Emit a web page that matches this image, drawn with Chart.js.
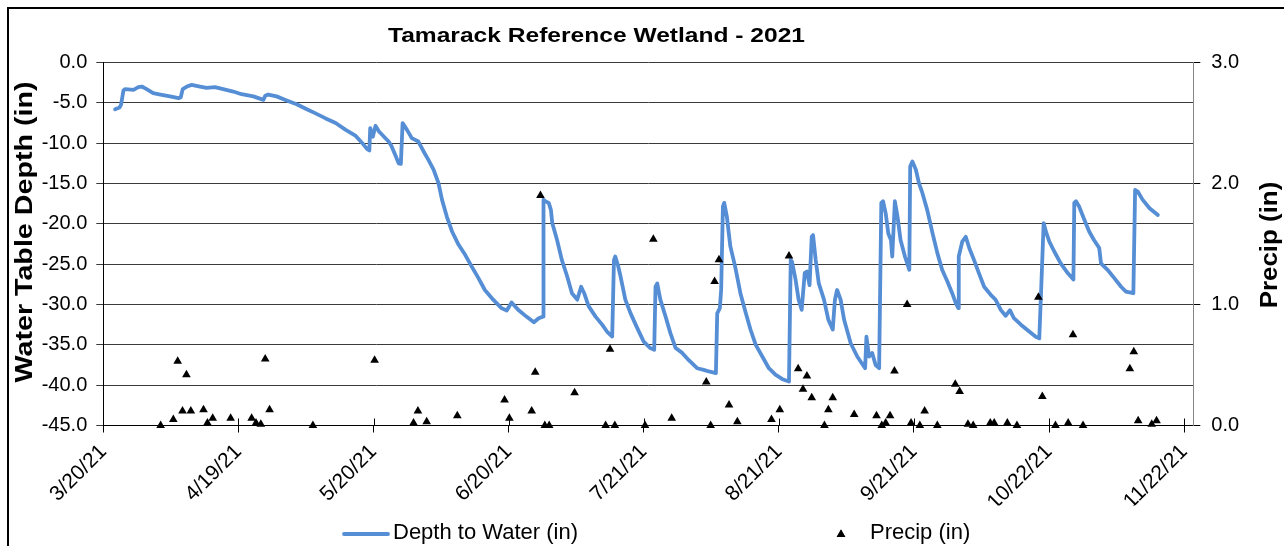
<!DOCTYPE html>
<html>
<head>
<meta charset="utf-8">
<script src="https://cdn.jsdelivr.net/npm/chart.js@4.4.1/dist/chart.umd.min.js"></script>
<style>
html, body { margin: 0; padding: 0; background: #ffffff; }
#wrap { position: relative; width: 1284px; height: 546px; }
</style>
</head>
<body>
<div id="wrap"><canvas id="chart"></canvas></div>
<script>
// ---------------- data ----------------
const chartTitle = 'Tamarack Reference Wetland - 2021';
const depthLabel = 'Depth to Water (in)';
const precipLabel = 'Precip (in)';
const leftAxisTitle = 'Water Table Depth (in)';
const rightAxisTitle = 'Precip (in)';

// x axis: days since 3/20/21
const xTickLabels = ['3/20/21', '4/19/21', '5/20/21', '6/20/21', '7/21/21', '8/21/21', '9/21/21', '10/22/21', '11/22/21'];
const xTickDays = [0, 30.875, 61.75, 92.625, 123.5, 154.375, 185.25, 216.125, 247];

const depthDays = [
  2.7, 3.7, 4.05, 4.6, 5.0, 6.9, 8.0, 8.8, 9.9, 11.4, 13.35, 15.25, 17.2, 17.7, 18.15, 19.1, 20.2, 22.1, 23.6, 25.5,
  27.4, 29.7, 31.6, 34.3, 36.6, 37.0, 37.7, 39.6, 41.9, 44.2, 46.5, 48.4, 50.7, 53.1, 55.4, 57.7, 59.2, 60.3, 60.8, 61.0,
  61.6, 62.2, 63.0, 64.1, 65.2, 65.8, 66.7, 67.5, 68.0, 68.4, 69.4, 70.5, 72.0, 73.2, 74.3, 75.5, 76.6, 77.4, 78.5, 79.7,
  81.2, 82.7, 84.2, 85.7, 87.2, 89.1, 91.0, 92.2, 93.3, 94.8, 96.7, 98.4, 99.5, 100.5, 100.6, 101.0, 101.8, 102.3, 102.6, 103.7,
  104.8, 106.0, 107.1, 108.3, 109.2, 109.9, 110.9, 112.5, 114.0, 115.1, 116.3, 116.7, 117.0, 117.6, 118.2, 119.3, 120.5, 122.0, 123.5, 125.0,
  125.9, 126.2, 126.6, 127.3, 128.5, 129.6, 130.8, 132.3, 133.8, 135.7, 137.2, 138.4, 140.0, 140.3, 140.9, 141.2, 141.6, 141.9, 142.5, 143.3,
  144.4, 145.6, 146.7, 147.9, 149.1, 150.6, 152.1, 153.6, 155.2, 156.7, 157.1, 157.4, 158.2, 158.9, 159.6, 160.3, 160.8, 161.4, 161.9, 162.2,
  162.8, 163.5, 164.7, 165.7, 166.7, 167.2, 167.7, 168.5, 169.3, 170.8, 172.3, 174.1, 174.4, 175.0, 175.7, 176.5, 177.3, 177.8, 178.2, 178.8,
  179.4, 180.0, 180.3, 180.9, 181.5, 182.2, 183.2, 184.2, 184.4, 184.9, 185.7, 186.4, 187.2, 188.3, 189.5, 190.6, 191.7, 192.9, 194.0, 194.8,
  195.4, 195.5, 196.3, 197.1, 197.9, 199.0, 200.1, 201.3, 202.8, 203.9, 205.1, 206.2, 207.2, 208.1, 209.7, 211.6, 213.1, 213.9, 214.3, 214.9,
  215.4, 216.2, 217.3, 218.8, 220.4, 221.7, 221.9, 222.3, 223.0, 224.2, 225.3, 226.4, 227.6, 228.0, 229.5, 231.0, 232.6, 233.7, 235.4, 235.8,
  236.4, 237.5, 239.1, 241.0
];
const depthValues = [
  -5.79, -5.58, -5.25, -3.47, -3.3, -3.39, -3.06, -2.98, -3.3, -3.8, -4.0, -4.2, -4.42, -4.3, -3.3, -2.98, -2.77, -2.98, -3.14, -3.06,
  -3.3, -3.6, -3.93, -4.2, -4.63, -4.13, -3.97, -4.2, -4.7, -5.17, -5.79, -6.28, -6.9, -7.5, -8.35, -9.1, -10.0, -10.74, -10.9, -8.14,
  -9.2, -7.85, -8.55, -9.17, -9.8, -10.3, -11.45, -12.5, -12.56, -7.52, -8.35, -9.38, -9.8, -11.03, -12.07, -13.3, -14.96, -17.0, -19.1, -20.95,
  -22.6, -23.84, -25.3, -26.7, -28.2, -29.4, -30.45, -30.74, -29.75, -30.66, -31.5, -32.2, -31.7, -31.5, -17.0, -17.2, -17.4, -18.3, -19.9, -22.0,
  -24.5, -26.5, -28.6, -29.4, -27.8, -28.6, -30.2, -31.5, -32.5, -33.35, -33.97, -24.5, -24.05, -25.1, -26.5, -29.4, -31.1, -32.9, -34.6, -35.4,
  -35.6, -27.8, -27.4, -29.4, -31.5, -33.55, -35.4, -36.0, -36.9, -37.9, -38.1, -38.3, -38.5, -31.1, -30.45, -28.2, -17.85, -17.4, -19.1, -22.8,
  -25.3, -28.6, -30.8, -33.1, -35.0, -36.45, -37.9, -38.7, -39.26, -39.55, -24.46, -24.7, -26.9, -29.4, -30.66, -26.1, -25.9, -27.6, -21.6, -21.4,
  -24.46, -27.35, -29.4, -31.9, -33.1, -29.4, -28.2, -29.4, -31.9, -34.8, -36.45, -37.9, -34.0, -36.45, -36.0, -37.5, -37.9, -17.4, -17.2, -18.7,
  -21.2, -22.0, -24.05, -17.2, -19.1, -22.0, -24.05, -25.7, -12.9, -12.27, -13.3, -14.96, -16.2, -18.3, -21.16, -23.6, -25.7, -27.15, -28.6, -29.8,
  -30.45, -24.05, -22.2, -21.6, -23.0, -24.5, -26.1, -27.8, -28.8, -29.4, -30.66, -31.4, -30.7, -31.7, -32.5, -33.35, -34.0, -34.2, -28.6, -19.9,
  -20.95, -22.2, -23.4, -24.9, -26.1, -26.9, -17.4, -17.2, -17.85, -19.5, -20.95, -22.0, -23.0, -24.9, -25.7, -26.7, -27.8, -28.4, -28.6, -15.8,
  -16.0, -17.0, -18.06, -18.9
];

const precipDays = [
  13.1, 16.0, 17.0, 18.1, 19.0, 20.0, 22.9, 23.8, 25.0, 29.1, 33.9, 34.9, 36.0, 37.0, 38.0, 47.9, 62.0, 70.9, 71.9, 73.9,
  80.9, 91.7, 92.8, 97.9, 98.7, 99.9, 100.9, 101.9, 107.7, 114.8, 115.8, 116.9, 123.8, 125.7, 129.9, 137.8, 138.8, 139.7, 140.7, 143.0,
  144.9, 152.7, 154.6, 156.7, 158.8, 159.9, 160.8, 161.9, 164.8, 165.7, 166.7, 171.6, 176.7, 177.9, 178.8, 179.8, 180.8, 183.7, 184.6, 186.6,
  187.7, 190.6, 194.7, 195.7, 197.6, 198.8, 202.7, 203.6, 206.6, 208.8, 213.7, 214.6, 217.6, 220.5, 221.6, 223.9, 234.6, 235.5, 236.5, 239.6,
  240.7
];
const precipValues = [
  0.0, 0.05, 0.53, 0.12, 0.42, 0.12, 0.13, 0.02, 0.06, 0.06, 0.06, 0.02, 0.01, 0.55, 0.13, 0.0, 0.54, 0.02, 0.12, 0.03,
  0.08, 0.21, 0.06, 0.12, 0.44, 1.90, 0.0, 0.0, 0.27, 0.0, 0.63, 0.0, 0.0, 1.54, 0.06, 0.36, 0.0, 1.19, 1.37, 0.17,
  0.03, 0.05, 0.13, 1.40, 0.47, 0.30, 0.41, 0.23, 0.0, 0.13, 0.23, 0.09, 0.08, 0.0, 0.02, 0.08, 0.45, 1.0, 0.02, 0.0,
  0.12, 0.0, 0.34, 0.28, 0.01, 0.0, 0.02, 0.02, 0.02, 0.0, 1.06, 0.24, 0.0, 0.02, 0.75, 0.0, 0.47, 0.61, 0.04, 0.01,
  0.04
];

// ---------------- chart ----------------
const FONT = '"Liberation Sans", Arial, sans-serif';
const LINE_BLUE = '#558ED5';

const depthPoints = depthDays.map((d, i) => ({ x: d, y: depthValues[i] }));
const precipPoints = precipDays.map((d, i) => ({ x: d, y: precipValues[i] }));

function drawStretched(ctx, text, x, y, font, targetLen, rotation) {
  ctx.save();
  ctx.font = font;
  const w = ctx.measureText(text).width;
  ctx.translate(x, y);
  if (rotation) ctx.rotate(rotation);
  ctx.scale(targetLen / w, 1);
  ctx.textAlign = 'center';
  ctx.textBaseline = 'alphabetic';
  ctx.fillStyle = '#000';
  ctx.fillText(text, 0, 0);
  ctx.restore();
}

const decorPlugin = {
  id: 'decor',
  beforeDraw(chart) {
    const ctx = chart.ctx;
    ctx.save();
    ctx.strokeStyle = '#000';
    ctx.lineWidth = 2;
    ctx.strokeRect(8, 8, chart.width + 40, chart.height + 40);
    ctx.restore();
  },
  afterDraw(chart) {
    const { ctx, chartArea, scales } = chart;
    // tick marks crossing the x axis (upper half)
    ctx.save();
    ctx.strokeStyle = '#000';
    ctx.lineWidth = 1;
    scales.x.ticks.forEach(t => {
      const px = Math.round(scales.x.getPixelForValue(t.value)) + 0.5;
      ctx.beginPath();
      ctx.moveTo(px, chartArea.bottom - 7);
      ctx.lineTo(px, chartArea.bottom);
      ctx.stroke();
    });
    ctx.restore();

    // chart title
    drawStretched(ctx, chartTitle, 596.5, 42, 'bold 21px ' + FONT, 417, 0);
    // axis titles (reading bottom to top)
    drawStretched(ctx, leftAxisTitle, 31.8, 232, 'bold 23px ' + FONT, 301, -Math.PI / 2);
    drawStretched(ctx, rightAxisTitle, 1276.8, 245, 'bold 23px ' + FONT, 126.6, -Math.PI / 2);

    // legend
    const ds = chart.data.datasets;
    ctx.save();
    ctx.font = '22px ' + FONT;
    ctx.fillStyle = '#000';
    ctx.textAlign = 'left';
    ctx.textBaseline = 'alphabetic';
    ctx.strokeStyle = ds[0].borderColor;
    ctx.lineWidth = ds[0].borderWidth;
    ctx.lineCap = 'round';
    ctx.beginPath();
    ctx.moveTo(344, 534);
    ctx.lineTo(388, 534);
    ctx.stroke();
    ctx.fillText(ds[0].label, 393, 539);
    Chart.helpers.drawPoint(ctx, { pointStyle: 'triangle', radius: 5, borderWidth: 0, rotation: 0 }, 841, 534.5);
    ctx.fillStyle = '#000';
    ctx.fill();
    ctx.fillText(ds[1].label, 870, 539);
    ctx.restore();
  }
};

new Chart(document.getElementById('chart'), {
  type: 'line',
  data: {
    datasets: [
      {
        label: depthLabel,
        data: depthPoints,
        yAxisID: 'y',
        borderColor: LINE_BLUE,
        backgroundColor: LINE_BLUE,
        borderWidth: 3.8,
        pointRadius: 0,
        tension: 0,
        borderJoinStyle: 'round',
        borderCapStyle: 'round',
        order: 2
      },
      {
        label: precipLabel,
        data: precipPoints,
        yAxisID: 'y1',
        showLine: false,
        pointStyle: 'triangle',
        pointRadius: 5,
        pointBackgroundColor: '#000',
        pointBorderColor: '#000',
        pointBorderWidth: 0,
        order: 1,
        clip: false
      }
    ]
  },
  options: {
    responsive: true,
    maintainAspectRatio: false,
    animation: false,
    events: [],
    layout: { padding: { top: 62.5, bottom: 40.5, left: 0, right: 0 } },
    plugins: {
      legend: { display: false },
      title: { display: false },
      tooltip: { enabled: false }
    },
    scales: {
      x: {
        type: 'linear',
        min: 0,
        max: 249.1,
        afterBuildTicks: s => { s.ticks = xTickDays.map(v => ({ value: v })); },
        afterFit: s => { s.height = 80; },
        ticks: {
          autoSkip: false,
          minRotation: 45,
          maxRotation: 45,
          padding: 7,
          color: '#000',
          font: { family: FONT, size: 21 },
          callback: (v, i) => xTickLabels[i]
        },
        grid: { drawOnChartArea: false, drawTicks: true, tickLength: 7, color: '#000' },
        border: { color: '#000', width: 1 }
      },
      y: {
        position: 'left',
        min: -45,
        max: 0,
        afterFit: s => { s.width = 103.3; },
        ticks: {
          stepSize: 5,
          padding: 9,
          color: '#000',
          font: { family: FONT, size: 20 },
          callback: v => Number(v).toFixed(1)
        },
        grid: { color: '#3a3a3a', lineWidth: 1, tickLength: 7 },
        border: { color: '#000', width: 1 }
      },
      y1: {
        position: 'right',
        min: 0,
        max: 3,
        afterFit: s => { s.width = 90.7; },
        ticks: {
          stepSize: 1,
          padding: 11,
          color: '#000',
          font: { family: FONT, size: 20 },
          callback: v => Number(v).toFixed(1)
        },
        grid: { drawOnChartArea: false, tickLength: 7, color: '#000' },
        border: { color: '#868686', width: 1 }
      }
    }
  },
  plugins: [decorPlugin]
});
</script>
</body>
</html>
